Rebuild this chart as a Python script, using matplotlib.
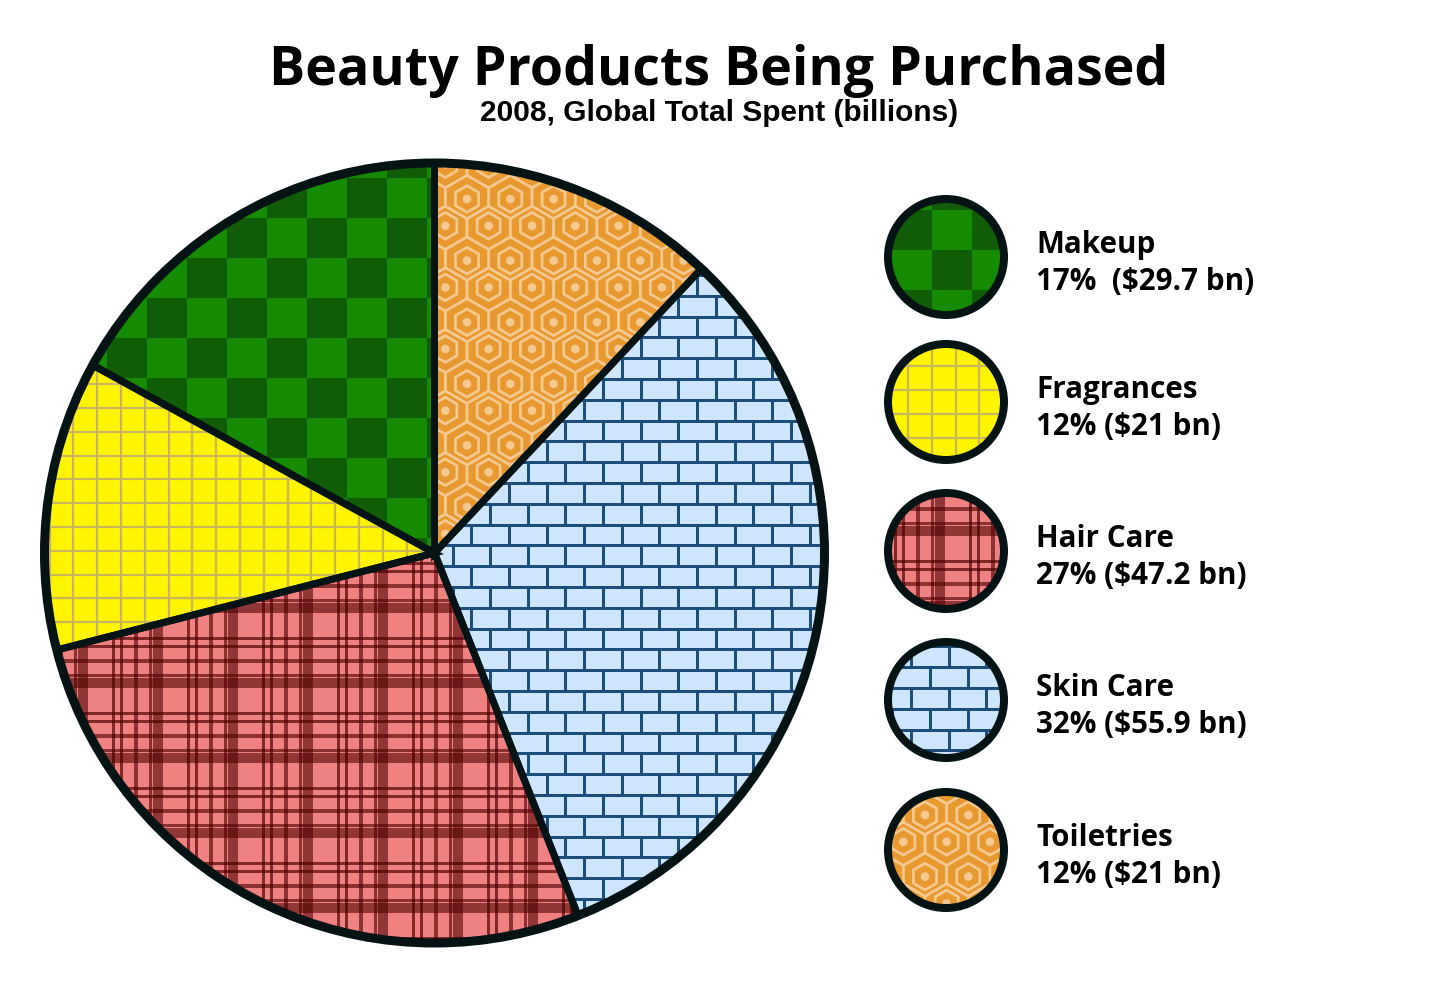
import numpy as np
import matplotlib
matplotlib.use("Agg")
import matplotlib.pyplot as plt
from matplotlib.patches import Circle, Rectangle, RegularPolygon
from matplotlib.collections import PatchCollection, LineCollection

# data
categories = ["Makeup", "Fragrances", "Hair Care", "Skin Care", "Toiletries"]
shares = [17, 12, 27, 32, 12]          # percent
spent = [29.7, 21, 47.2, 55.9, 21]     # billions USD
gaps = ["  ", " ", " ", " ", " "]      # spacing as written in the source

title = "Beauty Products Being Purchased"
subtitle = "2008, Global Total Spent (billions)"

INK = "#061315"
H = 992  # image height, y is flipped below


def px(v):
    return v * 0.72  # pixels -> points at 100 dpi


def rng(o, lo, hi, s):
    # positions o + k*s covering [lo, hi]
    k0 = int(np.floor((lo - o) / s)) - 1
    k1 = int(np.ceil((hi - o) / s)) + 1
    return [(k, o + k * s) for k in range(k0, k1 + 1)]


def checker(ax, clip, box, org):
    x0, x1, y0, y1 = box
    s = 40.0
    rects = []
    for i, x in rng(org[0], x0, x1, s):
        for j, y in rng(org[1], y0, y1, s):
            if (i + j) % 2 == 0:
                rects.append(Rectangle((x, y), s, s))
    pc = PatchCollection(rects, facecolor="#115c07", edgecolor="none", zorder=3)
    pc.set_clip_path(clip)
    ax.add_collection(pc)


def grid(ax, clip, box, org):
    x0, x1, y0, y1 = box
    s = 23.8
    segs = [[(x, y0), (x, y1)] for _, x in rng(org[0], x0, x1, s)]
    segs += [[(x0, y), (x1, y)] for _, y in rng(org[1], y0, y1, s)]
    lc = LineCollection(segs, colors="#c9b55c", linewidths=px(2.2), zorder=3)
    lc.set_clip_path(clip)
    ax.add_collection(lc)


def plaid(ax, clip, box, org):
    x0, x1, y0, y1 = box
    p = 75.0
    # (offset, width, alpha) inside one repeat
    stripes = [(0, 10, 0.58), (-8, 3, 0.62), (30, 3, 0.68), (38, 3, 0.68), (53, 4, 0.62)]
    rects, alphas = [], []
    for _, cx0 in rng(org[0], x0, x1, p):
        for off, w, a in stripes:
            rects.append(Rectangle((cx0 + off - w / 2, y0), w, y1 - y0))
            alphas.append(a)
    for _, cy0 in rng(org[1], y0, y1, p):
        for off, w, a in stripes:
            rects.append(Rectangle((x0, cy0 - off - w / 2), x1 - x0, w))
            alphas.append(a)
    cols = [(0.3, 0.0, 0.0, a) for a in alphas]
    pc = PatchCollection(rects, facecolors=cols, edgecolor="none", zorder=3)
    pc.set_clip_path(clip)
    ax.add_collection(pc)


def bricks(ax, clip, box, org):
    x0, x1, y0, y1 = box
    bh, bw = 20.8, 37.6
    segs = []
    for r, y in rng(org[1], y0, y1, bh):
        segs.append([(x0, y), (x1, y)])
        shift = org[0] + (bw / 2 if r % 2 else 0)
        for _, x in rng(shift, x0, x1, bw):
            segs.append([(x, y), (x, y + bh)])
    lc = LineCollection(segs, colors="#1b4e7a", linewidths=px(3), zorder=3)
    lc.set_clip_path(clip)
    ax.add_collection(lc)


def hexes(ax, clip, box, org):
    x0, x1, y0, y1 = box
    w, d = 43.3, 30.8
    a = w / 2
    hgt = 12.5
    top = (d + hgt) / 2  # half height of a cell
    light = "#f5c98f"
    segs, rings, dots = [], [], []
    for j, cy in rng(org[1], y0, y1, d):
        shift = org[0] + (a if j % 2 else 0)
        hy = cy + (2 if j % 2 else -2)
        for _, cx in rng(shift, x0, x1, w):
            pts = [(cx, cy + top), (cx + a, cy + top - hgt), (cx + a, cy - top + hgt),
                   (cx, cy - top), (cx - a, cy - top + hgt), (cx - a, cy + top - hgt),
                   (cx, cy + top)]
            segs.append(pts)
            rings.append(RegularPolygon((cx, hy), 6, radius=13.3))
            dots.append(Circle((cx, hy), 4.3))
    lc = LineCollection(segs, colors=light, linewidths=px(2.5), zorder=3)
    rc = PatchCollection(rings, facecolor="none", edgecolor=light, linewidths=px(2.8), zorder=3)
    dc = PatchCollection(dots, facecolor=light, edgecolor="none", zorder=3)
    for c in (lc, rc, dc):
        c.set_clip_path(clip)
        ax.add_collection(c)


base_colors = ["#148b01", "#fff500", "#f08181", "#cde6fe", "#e8992f"]
painters = [checker, grid, plaid, bricks, hexes]
# pattern origins (pie, legend) in flipped pixel coords
pie_org = [(347, H - 218), (73.3, H - 408), (158, H - 683), (621.7, H - 379), (467, H - 197)]
leg_org = [(932, H - 290), (908, H - 390), (940, H - 531), (930, H - 688), (925, H - 813)]

fig = plt.figure(figsize=(14.4, 9.92), dpi=100)
ax = fig.add_axes([0, 0, 1, 1])

# pie, clockwise from 12 o'clock: Toiletries, Skin Care, Hair Care, Fragrances, Makeup
center = (434.5, H - 553)
radius = 390
wedges, _ = ax.pie(shares[::-1], colors=base_colors[::-1], startangle=90,
                   counterclock=False, center=center, radius=radius,
                   wedgeprops=dict(linewidth=0, edgecolor="none"))
box = (center[0] - radius, center[0] + radius, center[1] - radius, center[1] + radius)
for wdg, paint, org in zip(wedges, painters[::-1], pie_org[::-1]):
    wdg.set_zorder(2)
    paint(ax, wdg, box, org)

edges, _ = ax.pie(shares[::-1], startangle=90, counterclock=False, center=center,
                  radius=radius, wedgeprops=dict(facecolor="none", edgecolor=INK,
                                                 linewidth=px(7), joinstyle="miter"))
for e in edges:
    e.set_zorder(5)
ax.add_patch(Circle(center, radius, facecolor="none", edgecolor=INK, linewidth=px(9), zorder=6))

# legend
leg_x = 946
leg_y = [257, 402, 551, 700, 850]
for k, name in enumerate(categories):
    cy = H - leg_y[k]
    circ = Circle((leg_x, cy), 58, facecolor=base_colors[k], edgecolor="none", zorder=2)
    ax.add_patch(circ)
    painters[k](ax, circ, (leg_x - 62, leg_x + 62, cy - 62, cy + 62), leg_org[k])
    ax.add_patch(Circle((leg_x, cy), 58, facecolor="none", edgecolor=INK, linewidth=px(8), zorder=6))
    ax.text(1036, cy + 4, name, fontsize=21.3, fontweight="bold", family="Open Sans",
            va="baseline", ha="left")
    ax.text(1036, cy - 33, f"{shares[k]}%{gaps[k]}(${spent[k]:g} bn)", fontsize=21.3,
            fontweight="bold", family="Open Sans", va="baseline", ha="left")

ax.text(718.5, H - 85, title, fontsize=38.7, fontweight="bold", family="Open Sans",
        ha="center", va="baseline")
ax.text(719.5, H - 121, subtitle, fontsize=21.5, fontweight="bold", family="Liberation Sans",
        ha="center", va="baseline")

ax.set_xlim(0, 1440)
ax.set_ylim(0, H)
ax.set_aspect("equal")
ax.axis("off")
fig.savefig("out.png", dpi=100)
